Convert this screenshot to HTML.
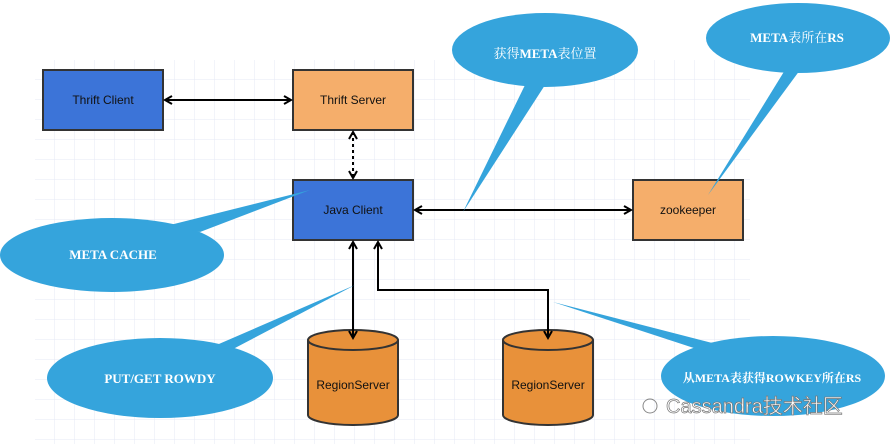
<!DOCTYPE html>
<html><head><meta charset="utf-8"><style>body{margin:0;background:#fff}svg{display:block}</style></head><body>
<svg width="891" height="444" xmlns="http://www.w3.org/2000/svg">
<defs>
<pattern id="g" width="20" height="20" patternUnits="userSpaceOnUse" x="35" y="60"><path d="M20 0V20H0" fill="none" stroke="#e6e9f4" stroke-width="1"/></pattern>
<marker id="a" markerWidth="10" markerHeight="10" refX="8" refY="5" orient="auto-start-reverse" markerUnits="userSpaceOnUse"><path d="M1 1L8 5L1 9" fill="none" stroke="#000" stroke-width="2"/></marker>
</defs>
<rect x="35" y="60" width="715" height="384" fill="url(#g)"/>
<g stroke="#333" stroke-width="2">
<rect x="43" y="70" width="120" height="60" fill="#3c74d8"/>
<rect x="293" y="70" width="120" height="60" fill="#f5ae6b"/>
<rect x="293" y="180" width="120" height="60" fill="#3c74d8"/>
<rect x="633" y="180" width="110" height="60" fill="#f5ae6b"/>
</g>
<g fill="#e8913a" stroke="#333" stroke-width="2">
<path d="M308 340V415A45 10 0 0 0 398 415V340A45 10 0 0 0 308 340Z"/><path d="M308 340A45 10 0 0 0 398 340" fill="none"/>
<path d="M503 340V415A45 10 0 0 0 593 415V340A45 10 0 0 0 503 340Z"/><path d="M503 340A45 10 0 0 0 593 340" fill="none"/>
</g>
<g stroke="#000" stroke-width="2" fill="none">
<line x1="165" y1="100" x2="291" y2="100" marker-start="url(#a)" marker-end="url(#a)"/>
<line x1="353" y1="132" x2="353" y2="178" stroke-dasharray="3,3" marker-start="url(#a)" marker-end="url(#a)"/>
<line x1="415" y1="210" x2="631" y2="210" marker-start="url(#a)" marker-end="url(#a)"/>
<line x1="353" y1="242" x2="353" y2="338" marker-start="url(#a)" marker-end="url(#a)"/>
<polyline points="378,242 378,290 548,290 548,338" marker-start="url(#a)" marker-end="url(#a)"/>
</g>
<g font-family="Liberation Sans,sans-serif" font-size="12" fill="#111" text-anchor="middle">
<text x="103" y="104">Thrift Client</text>
<text x="353" y="104">Thrift Server</text>
<text x="353" y="214">Java Client</text>
<text x="688" y="214">zookeeper</text>
<text x="353" y="389">RegionServer</text>
<text x="548" y="389">RegionServer</text>
</g>
<g fill="#35a4dc">
<ellipse cx="112" cy="255" rx="112" ry="37"/><polygon points="170,225 310,190 200,232"/>
<ellipse cx="160" cy="378" rx="113" ry="40"/><polygon points="205,350 355,285 235,348"/>
<ellipse cx="545" cy="50" rx="93" ry="37"/><polygon points="525,85 463,212 545,85"/>
<ellipse cx="798" cy="38" rx="92" ry="35"/><polygon points="785,70 708,195 800,70"/>
<ellipse cx="773" cy="376" rx="112" ry="40"/><polygon points="700,350 553,302 720,345"/>
</g>
<g font-family="Liberation Serif,'Noto Serif CJK SC',serif" font-weight="bold" font-size="13" fill="#fff" text-anchor="middle">
<text x="113" y="259">META CACHE</text>
<text x="160" y="383">PUT/GET ROWDY</text>
<text x="545" y="58" font-weight="normal">获得<tspan font-weight="bold">META</tspan>表位置</text>
<text x="797" y="42">META<tspan font-weight="normal">表所在</tspan>RS</text>
<text x="772" y="382" font-size="12">从META表获得ROWKEY所在RS</text>
</g>
<text x="666" y="413" font-family="Liberation Sans,'Noto Sans CJK SC',sans-serif" font-size="20" fill="#fff" stroke="#777" stroke-width="0.7">Cassandra技术社区</text>
<circle cx="650" cy="406" r="7" fill="none" stroke="#888"/>
</svg>
</body></html>
